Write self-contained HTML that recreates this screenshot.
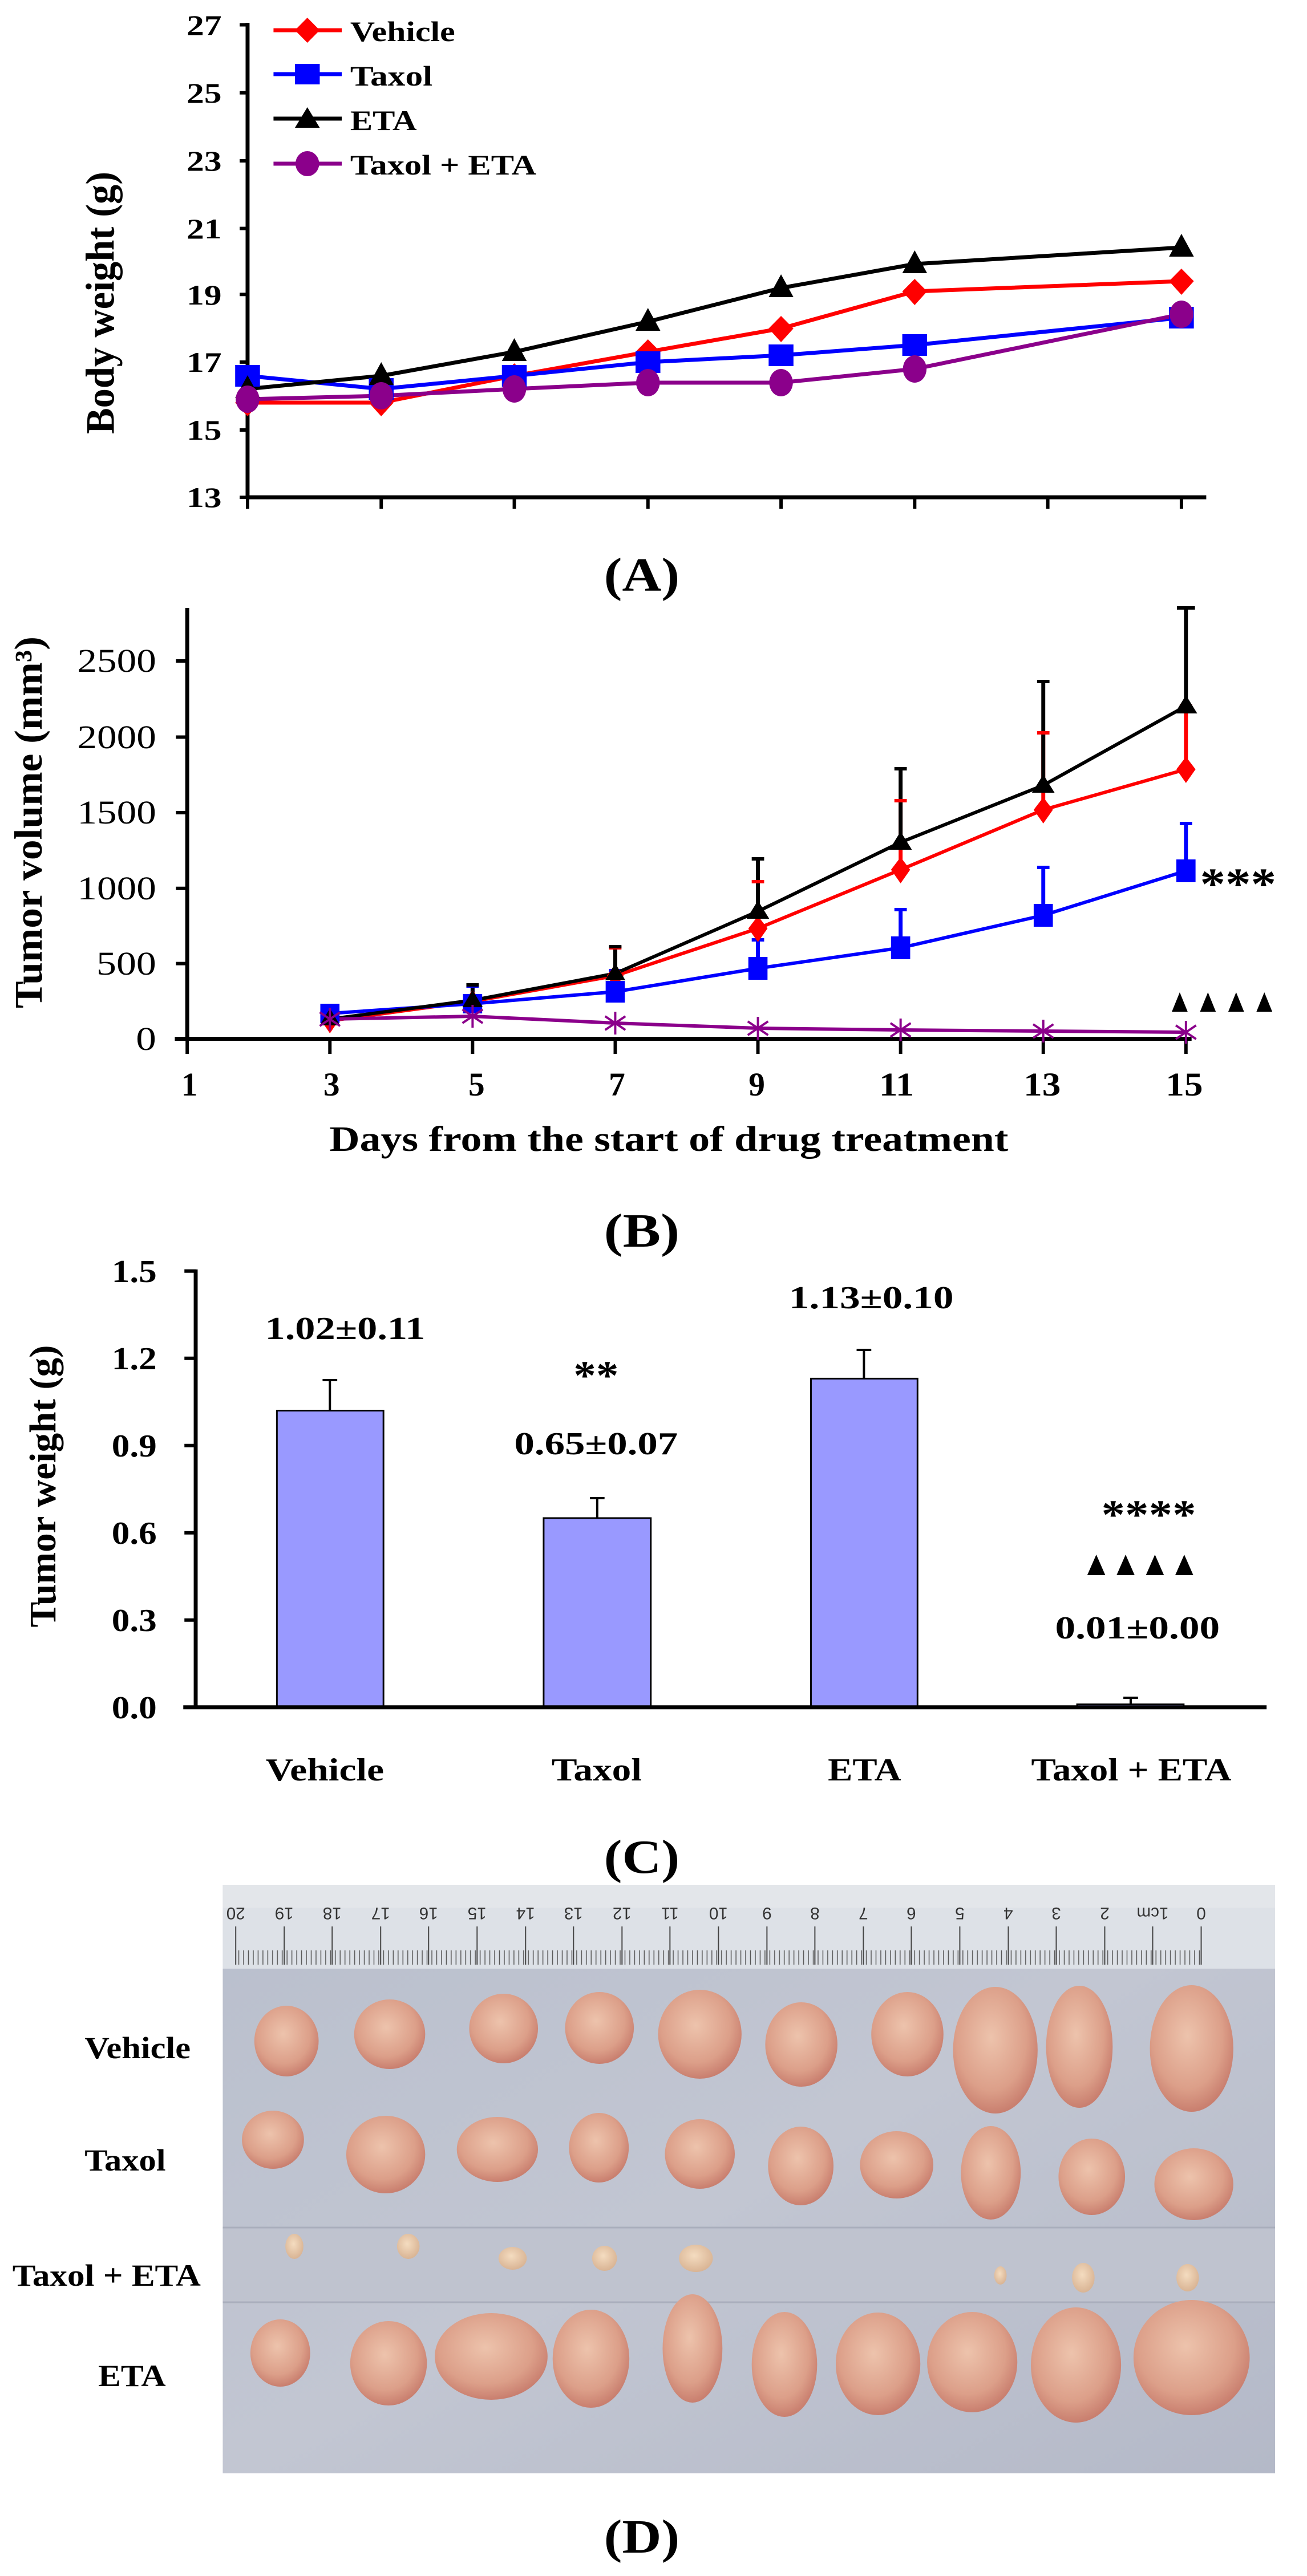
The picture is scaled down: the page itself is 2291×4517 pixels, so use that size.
<!DOCTYPE html>
<html><head><meta charset="utf-8"><style>
html,body{margin:0;padding:0;background:#fff}
svg{display:block}
text{font-family:"Liberation Serif",serif;font-weight:bold;fill:#000}
</style></head><body>
<svg width="2291" height="4517" viewBox="0 0 2291 4517" xmlns="http://www.w3.org/2000/svg">
<defs>
<radialGradient id="tg" cx="45%" cy="40%" r="60%">
<stop offset="0" stop-color="#edc3ac"/><stop offset="0.7" stop-color="#dc9f89"/><stop offset="1" stop-color="#c97f6f"/>
</radialGradient>
<radialGradient id="sg" cx="45%" cy="40%" r="60%">
<stop offset="0" stop-color="#f4dcc0"/><stop offset="1" stop-color="#d9b494"/>
</radialGradient>
<linearGradient id="bg" x1="0" y1="0" x2="1" y2="1">
<stop offset="0" stop-color="#b9bfcd"/><stop offset="0.5" stop-color="#c2c6d2"/><stop offset="1" stop-color="#b4b9c8"/>
</linearGradient>
<pattern id="mm" x="0" y="0" width="8.56" height="60" patternUnits="userSpaceOnUse">
<line x1="4" y1="0" x2="4" y2="40" stroke="#555" stroke-width="1.5"/>
</pattern>
</defs>
<g transform="scale(0.9885,1)">

<!-- ===== Panel A ===== -->
<g stroke="#000" stroke-width="7" fill="none">
<line x1="439" y1="40" x2="439" y2="875"/>
<line x1="436" y1="872" x2="2139" y2="872"/>
</g>
<g stroke="#000" stroke-width="6">
<line x1="425" y1="43.5" x2="439" y2="43.5"/><line x1="425" y1="162.7" x2="439" y2="162.7"/>
<line x1="425" y1="282" x2="439" y2="282"/><line x1="425" y1="400.6" x2="439" y2="400.6"/>
<line x1="425" y1="516.3" x2="439" y2="516.3"/><line x1="425" y1="634.9" x2="439" y2="634.9"/>
<line x1="425" y1="754" x2="439" y2="754"/><line x1="425" y1="872" x2="439" y2="872"/>
<line x1="439" y1="872" x2="439" y2="892"/><line x1="676" y1="872" x2="676" y2="892"/>
<line x1="912" y1="872" x2="912" y2="892"/><line x1="1149" y1="872" x2="1149" y2="892"/>
<line x1="1385" y1="872" x2="1385" y2="892"/><line x1="1622" y1="872" x2="1622" y2="892"/>
<line x1="1858" y1="872" x2="1858" y2="892"/><line x1="2095" y1="872" x2="2095" y2="892"/>
</g>
<g font-size="50" text-anchor="end">
<text x="393" y="61" textLength="62" lengthAdjust="spacingAndGlyphs">27</text>
<text x="393" y="180" textLength="62" lengthAdjust="spacingAndGlyphs">25</text>
<text x="393" y="299" textLength="62" lengthAdjust="spacingAndGlyphs">23</text>
<text x="393" y="418" textLength="62" lengthAdjust="spacingAndGlyphs">21</text>
<text x="393" y="534" textLength="62" lengthAdjust="spacingAndGlyphs">19</text>
<text x="393" y="652" textLength="62" lengthAdjust="spacingAndGlyphs">17</text>
<text x="393" y="771" textLength="62" lengthAdjust="spacingAndGlyphs">15</text>
<text x="393" y="889" textLength="62" lengthAdjust="spacingAndGlyphs">13</text>
</g>
<text transform="translate(202,531) rotate(-90)" font-size="72" text-anchor="middle" textLength="460" lengthAdjust="spacingAndGlyphs">Body weight (g)</text>

<g fill="none" stroke-width="7" stroke-linejoin="round">
<polyline stroke="#ff0000" points="439,706 676,706 912,659 1149,617 1385,576 1622,511 2095,493"/>
<polyline stroke="#0000ff" points="439,659 676,682 912,659 1149,635 1385,623 1622,605 2095,557"/>
<polyline stroke="#000000" points="439,682 676,659 912,617 1149,564 1385,505 1622,463 2095,434"/>
<polyline stroke="#8b008b" points="439,700 676,694 912,682 1149,671 1385,671 1622,647 2095,551"/>
</g>
<g fill="#ff0000">
<path d="M439,684 l22,22 -22,24 -22,-24z"/><path d="M676,684 l22,22 -22,24 -22,-24z"/>
<path d="M912,637 l22,22 -22,24 -22,-24z"/><path d="M1149,595 l22,22 -22,24 -22,-24z"/>
<path d="M1385,554 l22,22 -22,24 -22,-24z"/><path d="M1622,489 l22,22 -22,24 -22,-24z"/>
<path d="M2095,471 l22,22 -22,24 -22,-24z"/>
</g>
<g fill="#0000ff">
<rect x="417" y="640" width="44" height="38"/><rect x="654" y="663" width="44" height="38"/>
<rect x="890" y="640" width="44" height="38"/><rect x="1127" y="616" width="44" height="38"/>
<rect x="1363" y="604" width="44" height="38"/><rect x="1600" y="586" width="44" height="38"/>
<rect x="2073" y="538" width="44" height="38"/>
</g>
<g fill="#000">
<path d="M439,658 l22,40 -44,0z"/><path d="M676,635 l22,40 -44,0z"/>
<path d="M912,593 l22,40 -44,0z"/><path d="M1149,540 l22,40 -44,0z"/>
<path d="M1385,481 l22,40 -44,0z"/><path d="M1622,439 l22,40 -44,0z"/>
<path d="M2095,410 l22,40 -44,0z"/>
</g>
<g fill="#8b008b">
<ellipse cx="439" cy="700" rx="21" ry="24"/><ellipse cx="676" cy="694" rx="21" ry="24"/>
<ellipse cx="912" cy="682" rx="21" ry="24"/><ellipse cx="1149" cy="671" rx="21" ry="24"/>
<ellipse cx="1385" cy="671" rx="21" ry="24"/><ellipse cx="1622" cy="647" rx="21" ry="24"/>
<ellipse cx="2095" cy="551" rx="21" ry="24"/>
</g>
<!-- legend -->
<g stroke-width="7">
<line x1="485" y1="53" x2="606" y2="53" stroke="#ff0000"/>
<line x1="485" y1="130" x2="606" y2="130" stroke="#0000ff"/>
<line x1="485" y1="208" x2="606" y2="208" stroke="#000"/>
<line x1="485" y1="287" x2="606" y2="287" stroke="#8b008b"/>
</g>
<path d="M545,31 l22,22 -22,22 -22,-22z" fill="#ff0000"/>
<rect x="523" y="112" width="44" height="36" fill="#0000ff"/>
<path d="M545,188 l22,36 -44,0z" fill="#000"/>
<ellipse cx="545" cy="287" rx="21" ry="22" fill="#8b008b"/>
<g font-size="50">
<text x="621" y="72" textLength="186" lengthAdjust="spacingAndGlyphs">Vehicle</text>
<text x="621" y="150" textLength="146" lengthAdjust="spacingAndGlyphs">Taxol</text>
<text x="621" y="228" textLength="118" lengthAdjust="spacingAndGlyphs">ETA</text>
<text x="621" y="306" textLength="330" lengthAdjust="spacingAndGlyphs">Taxol + ETA</text>
</g>
<text x="1138" y="1036" font-size="84" text-anchor="middle" textLength="134" lengthAdjust="spacingAndGlyphs">(A)</text>

<!-- ===== Panel B ===== -->
<g stroke="#000" stroke-width="7" fill="none">
<line x1="332" y1="1066" x2="332" y2="1824"/>
<line x1="310" y1="1821.5" x2="2113" y2="1821.5"/>
</g>
<g stroke="#000" stroke-width="6">
<line x1="312" y1="1159" x2="332" y2="1159"/><line x1="312" y1="1292.5" x2="332" y2="1292.5"/>
<line x1="312" y1="1425" x2="332" y2="1425"/><line x1="312" y1="1557.7" x2="332" y2="1557.7"/>
<line x1="312" y1="1689.6" x2="332" y2="1689.6"/>
<line x1="332" y1="1821" x2="332" y2="1848"/><line x1="585" y1="1821" x2="585" y2="1848"/>
<line x1="838" y1="1821" x2="838" y2="1848"/><line x1="1091" y1="1821" x2="1091" y2="1848"/>
<line x1="1344" y1="1821" x2="1344" y2="1848"/><line x1="1597" y1="1821" x2="1597" y2="1848"/>
<line x1="1850" y1="1821" x2="1850" y2="1848"/><line x1="2103" y1="1821" x2="2103" y2="1848"/>
</g>
<g font-size="58" text-anchor="end">
<text x="277" y="1178" textLength="140" lengthAdjust="spacingAndGlyphs" style="font-weight:normal">2500</text>
<text x="277" y="1312" textLength="140" lengthAdjust="spacingAndGlyphs" style="font-weight:normal">2000</text>
<text x="277" y="1444" textLength="140" lengthAdjust="spacingAndGlyphs" style="font-weight:normal">1500</text>
<text x="277" y="1577" textLength="140" lengthAdjust="spacingAndGlyphs" style="font-weight:normal">1000</text>
<text x="277" y="1709" textLength="106" lengthAdjust="spacingAndGlyphs" style="font-weight:normal">500</text>
<text x="277" y="1841" textLength="36" lengthAdjust="spacingAndGlyphs" style="font-weight:normal">0</text>
</g>
<g font-size="58" text-anchor="middle">
<text x="336" y="1921">1</text><text x="588" y="1921">3</text><text x="845" y="1921">5</text>
<text x="1094" y="1921">7</text><text x="1342" y="1921">9</text>
<text x="1590" y="1921" textLength="62" lengthAdjust="spacingAndGlyphs">11</text>
<text x="1848" y="1921" textLength="66" lengthAdjust="spacingAndGlyphs">13</text>
<text x="2100" y="1921" textLength="66" lengthAdjust="spacingAndGlyphs">15</text>
</g>
<text x="1186" y="2018" font-size="62" text-anchor="middle" textLength="1204" lengthAdjust="spacingAndGlyphs">Days from the start of drug treatment</text>
<text transform="translate(74,1442) rotate(-90)" font-size="70" text-anchor="middle" textLength="652" lengthAdjust="spacingAndGlyphs">Tumor volume (mm³)</text>

<!-- error bars -->
<g stroke-width="7">
<g stroke="#ff0000">
<line x1="1091" y1="1711" x2="1091" y2="1662"/><line x1="1344" y1="1628" x2="1344" y2="1546"/>
<line x1="1597" y1="1525" x2="1597" y2="1404"/><line x1="1850" y1="1420" x2="1850" y2="1285"/>
<line x1="2103" y1="1349" x2="2103" y2="1238"/>
</g>
<g stroke="#0000ff">
<line x1="838" y1="1760" x2="838" y2="1729"/><line x1="1091" y1="1739" x2="1091" y2="1702"/>
<line x1="1344" y1="1698" x2="1344" y2="1648"/><line x1="1597" y1="1662" x2="1597" y2="1595"/>
<line x1="1850" y1="1605" x2="1850" y2="1521"/><line x1="2103" y1="1527" x2="2103" y2="1444"/>
</g>
<g stroke="#000">
<line x1="838" y1="1754" x2="838" y2="1727"/><line x1="1091" y1="1707" x2="1091" y2="1660"/>
<line x1="1344" y1="1598" x2="1344" y2="1506"/><line x1="1597" y1="1477" x2="1597" y2="1348"/>
<line x1="1850" y1="1377" x2="1850" y2="1195"/><line x1="2103" y1="1238" x2="2103" y2="1066"/>
</g>
</g>
<g stroke-width="6">
<g stroke="#ff0000">
<line x1="1080" y1="1662" x2="1102" y2="1662"/><line x1="1333" y1="1546" x2="1355" y2="1546"/>
<line x1="1586" y1="1404" x2="1608" y2="1404"/><line x1="1839" y1="1285" x2="1861" y2="1285"/>
<line x1="2092" y1="1238" x2="2114" y2="1238"/>
</g>
<g stroke="#0000ff">
<line x1="827" y1="1729" x2="849" y2="1729"/><line x1="1080" y1="1702" x2="1102" y2="1702"/>
<line x1="1333" y1="1648" x2="1355" y2="1648"/><line x1="1586" y1="1595" x2="1608" y2="1595"/>
<line x1="1839" y1="1521" x2="1861" y2="1521"/><line x1="2092" y1="1444" x2="2114" y2="1444"/>
</g>
<g stroke="#000">
<line x1="827" y1="1727" x2="849" y2="1727"/><line x1="1080" y1="1660" x2="1102" y2="1660"/>
<line x1="1333" y1="1506" x2="1355" y2="1506"/><line x1="1586" y1="1348" x2="1608" y2="1348"/>
<line x1="1839" y1="1195" x2="1861" y2="1195"/><line x1="2087" y1="1066" x2="2119" y2="1066"/>
</g>
</g>
<g fill="none" stroke-width="6" stroke-linejoin="round">
<polyline stroke="#ff0000" points="585,1790 838,1756 1091,1711 1344,1628 1597,1525 1850,1420 2103,1349"/>
<polyline stroke="#0000ff" points="585,1777 838,1760 1091,1739 1344,1698 1597,1662 1850,1605 2103,1527"/>
<polyline stroke="#000" points="585,1787 838,1754 1091,1707 1344,1598 1597,1477 1850,1377 2103,1238"/>
<polyline stroke="#8b008b" points="585,1787 838,1782 1091,1794 1344,1803 1597,1806 1850,1808 2103,1810"/>
</g>
<g fill="#ff0000">
<path d="M585,1770 l15,20 -15,22 -15,-22z"/><path d="M838,1736 l15,20 -15,22 -15,-22z"/>
<path d="M1091,1691 l15,20 -15,22 -15,-22z"/><path d="M1344,1606 l17,22 -17,24 -17,-24z"/>
<path d="M1597,1503 l17,22 -17,24 -17,-24z"/><path d="M1850,1398 l17,22 -17,24 -17,-24z"/>
<path d="M2103,1327 l17,22 -17,24 -17,-24z"/>
</g>
<g fill="#0000ff">
<rect x="568" y="1760" width="34" height="34"/><rect x="821" y="1743" width="34" height="34"/>
<rect x="1074" y="1720" width="34" height="38"/><rect x="1327" y="1678" width="34" height="40"/>
<rect x="1580" y="1642" width="34" height="40"/><rect x="1833" y="1585" width="34" height="40"/>
<rect x="2086" y="1507" width="34" height="40"/>
</g>
<g fill="#000">
<path d="M585,1768 l18,30 -36,0z"/><path d="M838,1736 l18,30 -36,0z"/>
<path d="M1091,1689 l18,30 -36,0z"/><path d="M1344,1579 l20,32 -40,0z"/>
<path d="M1597,1458 l20,32 -40,0z"/><path d="M1850,1358 l20,32 -40,0z"/>
<path d="M2103,1219 l20,32 -40,0z"/>
</g>
<g stroke="#8b008b" stroke-width="4">
<path d="M838,1762 v40 M820,1770 l36,24 M856,1770 l-36,24"/>
<path d="M585,1767 v40 M567,1775 l36,24 M603,1775 l-36,24"/>
<path d="M1091,1774 v40 M1073,1782 l36,24 M1109,1782 l-36,24"/>
<path d="M1344,1783 v40 M1326,1791 l36,24 M1362,1791 l-36,24"/>
<path d="M1597,1786 v40 M1579,1794 l36,24 M1615,1794 l-36,24"/>
<path d="M1850,1788 v40 M1832,1796 l36,24 M1868,1796 l-36,24"/>
<path d="M2103,1790 v40 M2085,1798 l36,24 M2121,1798 l-36,24"/>
</g>
<text x="2128" y="1576" font-size="78" textLength="135" lengthAdjust="spacingAndGlyphs">***</text>
<g fill="#000">
<path d="M2092,1740 l14,34 -28,0z"/><path d="M2142,1740 l14,34 -28,0z"/>
<path d="M2192,1740 l14,34 -28,0z"/><path d="M2242,1740 l14,34 -28,0z"/>
</g>
<text x="1138" y="2186" font-size="84" text-anchor="middle" textLength="134" lengthAdjust="spacingAndGlyphs">(B)</text>

<!-- ===== Panel C ===== -->
<g fill="#9999ff" stroke="#000" stroke-width="3">
<rect x="491" y="2473.5" width="189" height="520"/>
<rect x="964" y="2662" width="190" height="332"/>
<rect x="1438" y="2417.4" width="189" height="576"/>
<rect x="1910" y="2988.6" width="189" height="5"/>
</g>
<g stroke="#000" stroke-width="4">
<line x1="585" y1="2473" x2="585" y2="2420"/><line x1="572" y1="2420" x2="598" y2="2420"/>
<line x1="1059" y1="2662" x2="1059" y2="2627"/><line x1="1046" y1="2627" x2="1072" y2="2627"/>
<line x1="1532" y1="2417" x2="1532" y2="2367"/><line x1="1519" y1="2367" x2="1545" y2="2367"/>
<line x1="2005" y1="2988" x2="2005" y2="2977"/><line x1="1992" y1="2977" x2="2018" y2="2977"/>
</g>
<g stroke="#000" stroke-width="7" fill="none">
<line x1="347" y1="2226" x2="347" y2="2996"/>
<line x1="325" y1="2993.7" x2="2246" y2="2993.7"/>
</g>
<g stroke="#000" stroke-width="6">
<line x1="327" y1="2228.7" x2="347" y2="2228.7"/><line x1="327" y1="2381.7" x2="347" y2="2381.7"/>
<line x1="327" y1="2534.7" x2="347" y2="2534.7"/><line x1="327" y1="2687.7" x2="347" y2="2687.7"/>
<line x1="327" y1="2840.7" x2="347" y2="2840.7"/>
</g>
<g font-size="56" text-anchor="end">
<text x="278" y="2248" textLength="80" lengthAdjust="spacingAndGlyphs">1.5</text>
<text x="278" y="2401" textLength="80" lengthAdjust="spacingAndGlyphs">1.2</text>
<text x="278" y="2554" textLength="80" lengthAdjust="spacingAndGlyphs">0.9</text>
<text x="278" y="2707" textLength="80" lengthAdjust="spacingAndGlyphs">0.6</text>
<text x="278" y="2860" textLength="80" lengthAdjust="spacingAndGlyphs">0.3</text>
<text x="278" y="3013" textLength="80" lengthAdjust="spacingAndGlyphs">0.0</text>
</g>
<text transform="translate(98,2606) rotate(-90)" font-size="66" text-anchor="middle" textLength="495" lengthAdjust="spacingAndGlyphs">Tumor weight (g)</text>
<g font-size="56" text-anchor="middle">
<text x="612" y="2348" textLength="284" lengthAdjust="spacingAndGlyphs">1.02±0.11</text>
<text x="1057" y="2436" font-size="72" textLength="80" lengthAdjust="spacingAndGlyphs">**</text>
<text x="1057" y="2550" textLength="290" lengthAdjust="spacingAndGlyphs">0.65±0.07</text>
<text x="1545" y="2294" textLength="292" lengthAdjust="spacingAndGlyphs">1.13±0.10</text>
<text x="2037" y="2680" font-size="72" textLength="168" lengthAdjust="spacingAndGlyphs">****</text>
<text x="2017" y="2873" textLength="292" lengthAdjust="spacingAndGlyphs">0.01±0.00</text>
<text x="576" y="3122" textLength="210" lengthAdjust="spacingAndGlyphs">Vehicle</text>
<text x="1058" y="3122" textLength="160" lengthAdjust="spacingAndGlyphs">Taxol</text>
<text x="1533" y="3122" textLength="130" lengthAdjust="spacingAndGlyphs">ETA</text>
<text x="2006" y="3122" textLength="355" lengthAdjust="spacingAndGlyphs">Taxol + ETA</text>
</g>
<g fill="#000">
<path d="M1944,2726 l16,36 -32,0z"/><path d="M1996,2726 l16,36 -32,0z"/>
<path d="M2048,2726 l16,36 -32,0z"/><path d="M2100,2726 l16,36 -32,0z"/>
</g>
<text x="1138" y="3284" font-size="84" text-anchor="middle" textLength="134" lengthAdjust="spacingAndGlyphs">(C)</text>

<!-- ===== Panel D (photo) ===== -->
<rect x="395" y="3305" width="1866" height="1032" fill="url(#bg)"/>
<rect x="395" y="3305" width="1866" height="147" fill="#dde1e7"/>
<rect x="395" y="3305" width="1866" height="40" fill="#e3e6ea"/>
<rect x="418" y="3400" width="1712" height="45" fill="url(#mm)"/>
<g stroke="#444" stroke-width="2">
<line x1="418" y1="3378" x2="418" y2="3445"/><line x1="504" y1="3378" x2="504" y2="3445"/>
<line x1="589" y1="3378" x2="589" y2="3445"/><line x1="675" y1="3378" x2="675" y2="3445"/>
<line x1="760" y1="3378" x2="760" y2="3445"/><line x1="846" y1="3378" x2="846" y2="3445"/>
<line x1="932" y1="3378" x2="932" y2="3445"/><line x1="1017" y1="3378" x2="1017" y2="3445"/>
<line x1="1103" y1="3378" x2="1103" y2="3445"/><line x1="1188" y1="3378" x2="1188" y2="3445"/>
<line x1="1274" y1="3378" x2="1274" y2="3445"/><line x1="1360" y1="3378" x2="1360" y2="3445"/>
<line x1="1445" y1="3378" x2="1445" y2="3445"/><line x1="1531" y1="3378" x2="1531" y2="3445"/>
<line x1="1616" y1="3378" x2="1616" y2="3445"/><line x1="1702" y1="3378" x2="1702" y2="3445"/>
<line x1="1788" y1="3378" x2="1788" y2="3445"/><line x1="1873" y1="3378" x2="1873" y2="3445"/>
<line x1="1959" y1="3378" x2="1959" y2="3445"/><line x1="2044" y1="3378" x2="2044" y2="3445"/>
<line x1="2130" y1="3378" x2="2130" y2="3445"/>
</g>
<g font-size="30" text-anchor="middle">
<text transform="translate(418,3345) rotate(180)" style="font-family:'Liberation Sans',sans-serif;font-weight:normal;fill:#333">20</text>
<text transform="translate(504,3345) rotate(180)" style="font-family:'Liberation Sans',sans-serif;font-weight:normal;fill:#333">19</text>
<text transform="translate(589,3345) rotate(180)" style="font-family:'Liberation Sans',sans-serif;font-weight:normal;fill:#333">18</text>
<text transform="translate(675,3345) rotate(180)" style="font-family:'Liberation Sans',sans-serif;font-weight:normal;fill:#333">17</text>
<text transform="translate(760,3345) rotate(180)" style="font-family:'Liberation Sans',sans-serif;font-weight:normal;fill:#333">16</text>
<text transform="translate(846,3345) rotate(180)" style="font-family:'Liberation Sans',sans-serif;font-weight:normal;fill:#333">15</text>
<text transform="translate(932,3345) rotate(180)" style="font-family:'Liberation Sans',sans-serif;font-weight:normal;fill:#333">14</text>
<text transform="translate(1017,3345) rotate(180)" style="font-family:'Liberation Sans',sans-serif;font-weight:normal;fill:#333">13</text>
<text transform="translate(1103,3345) rotate(180)" style="font-family:'Liberation Sans',sans-serif;font-weight:normal;fill:#333">12</text>
<text transform="translate(1188,3345) rotate(180)" style="font-family:'Liberation Sans',sans-serif;font-weight:normal;fill:#333">11</text>
<text transform="translate(1274,3345) rotate(180)" style="font-family:'Liberation Sans',sans-serif;font-weight:normal;fill:#333">10</text>
<text transform="translate(1360,3345) rotate(180)" style="font-family:'Liberation Sans',sans-serif;font-weight:normal;fill:#333">9</text>
<text transform="translate(1445,3345) rotate(180)" style="font-family:'Liberation Sans',sans-serif;font-weight:normal;fill:#333">8</text>
<text transform="translate(1531,3345) rotate(180)" style="font-family:'Liberation Sans',sans-serif;font-weight:normal;fill:#333">7</text>
<text transform="translate(1616,3345) rotate(180)" style="font-family:'Liberation Sans',sans-serif;font-weight:normal;fill:#333">6</text>
<text transform="translate(1702,3345) rotate(180)" style="font-family:'Liberation Sans',sans-serif;font-weight:normal;fill:#333">5</text>
<text transform="translate(1788,3345) rotate(180)" style="font-family:'Liberation Sans',sans-serif;font-weight:normal;fill:#333">4</text>
<text transform="translate(1873,3345) rotate(180)" style="font-family:'Liberation Sans',sans-serif;font-weight:normal;fill:#333">3</text>
<text transform="translate(1959,3345) rotate(180)" style="font-family:'Liberation Sans',sans-serif;font-weight:normal;fill:#333">2</text>
<text transform="translate(2044,3345) rotate(180)" style="font-family:'Liberation Sans',sans-serif;font-weight:normal;fill:#333">1cm</text>
<text transform="translate(2130,3345) rotate(180)" style="font-family:'Liberation Sans',sans-serif;font-weight:normal;fill:#333">0</text>
</g>
<rect x="395" y="3906" width="1866" height="131" fill="#bfc3cf"/>
<line x1="395" y1="3906" x2="2261" y2="3906" stroke="#a9aebc" stroke-width="3"/>
<line x1="395" y1="4037" x2="2261" y2="4037" stroke="#a9aebc" stroke-width="3"/>
<g fill="url(#tg)">
<ellipse cx="508" cy="3579" rx="57" ry="62"/><ellipse cx="691" cy="3567" rx="63" ry="61"/>
<ellipse cx="893" cy="3557" rx="61" ry="61"/><ellipse cx="1063" cy="3556" rx="61" ry="63"/>
<ellipse cx="1241" cy="3567" rx="74" ry="78"/><ellipse cx="1421" cy="3585" rx="64" ry="74"/>
<ellipse cx="1609" cy="3567" rx="64" ry="74"/><ellipse cx="1765" cy="3595" rx="75" ry="111"/>
<ellipse cx="1914" cy="3589" rx="59" ry="107"/><ellipse cx="2113" cy="3592" rx="74" ry="111"/>
<ellipse cx="484" cy="3752" rx="55" ry="51"/><ellipse cx="684" cy="3778" rx="70" ry="68"/>
<ellipse cx="882" cy="3769" rx="72" ry="57"/><ellipse cx="1062" cy="3766" rx="53" ry="61"/>
<ellipse cx="1241" cy="3777" rx="62" ry="61"/><ellipse cx="1420" cy="3798" rx="58" ry="69"/>
<ellipse cx="1590" cy="3796" rx="65" ry="59"/><ellipse cx="1757" cy="3810" rx="53" ry="82"/>
<ellipse cx="1936" cy="3817" rx="59" ry="67"/><ellipse cx="2117" cy="3830" rx="70" ry="63"/>
<ellipse cx="497" cy="4126" rx="53" ry="59"/><ellipse cx="689" cy="4144" rx="68" ry="74"/>
<ellipse cx="871" cy="4132" rx="100" ry="76"/><ellipse cx="1048" cy="4136" rx="68" ry="86"/>
<ellipse cx="1228" cy="4118" rx="53" ry="95"/><ellipse cx="1391" cy="4146" rx="58" ry="92"/>
<ellipse cx="1557" cy="4145" rx="75" ry="90"/><ellipse cx="1724" cy="4142" rx="80" ry="88"/>
<ellipse cx="1908" cy="4147" rx="80" ry="101"/><ellipse cx="2113" cy="4134" rx="103" ry="101"/>
</g>
<g fill="url(#sg)">
<ellipse cx="522" cy="3939" rx="16" ry="22"/><ellipse cx="724" cy="3939" rx="20" ry="22"/>
<ellipse cx="909" cy="3960" rx="25" ry="20"/><ellipse cx="1072" cy="3960" rx="22" ry="22"/>
<ellipse cx="1234" cy="3960" rx="30" ry="24"/><ellipse cx="1774" cy="3990" rx="11" ry="16"/>
<ellipse cx="1921" cy="3994" rx="20" ry="26"/><ellipse cx="2106" cy="3994" rx="20" ry="24"/>
</g>
<g font-size="54" text-anchor="middle">
<text x="244" y="3609" textLength="188" lengthAdjust="spacingAndGlyphs">Vehicle</text>
<text x="222" y="3806" textLength="144" lengthAdjust="spacingAndGlyphs">Taxol</text>
<text x="189" y="4008" textLength="334" lengthAdjust="spacingAndGlyphs">Taxol + ETA</text>
<text x="234" y="4184" textLength="120" lengthAdjust="spacingAndGlyphs">ETA</text>
</g>
<text x="1138" y="4476" font-size="84" text-anchor="middle" textLength="134" lengthAdjust="spacingAndGlyphs">(D)</text>
</g>
</svg>
</body></html>
